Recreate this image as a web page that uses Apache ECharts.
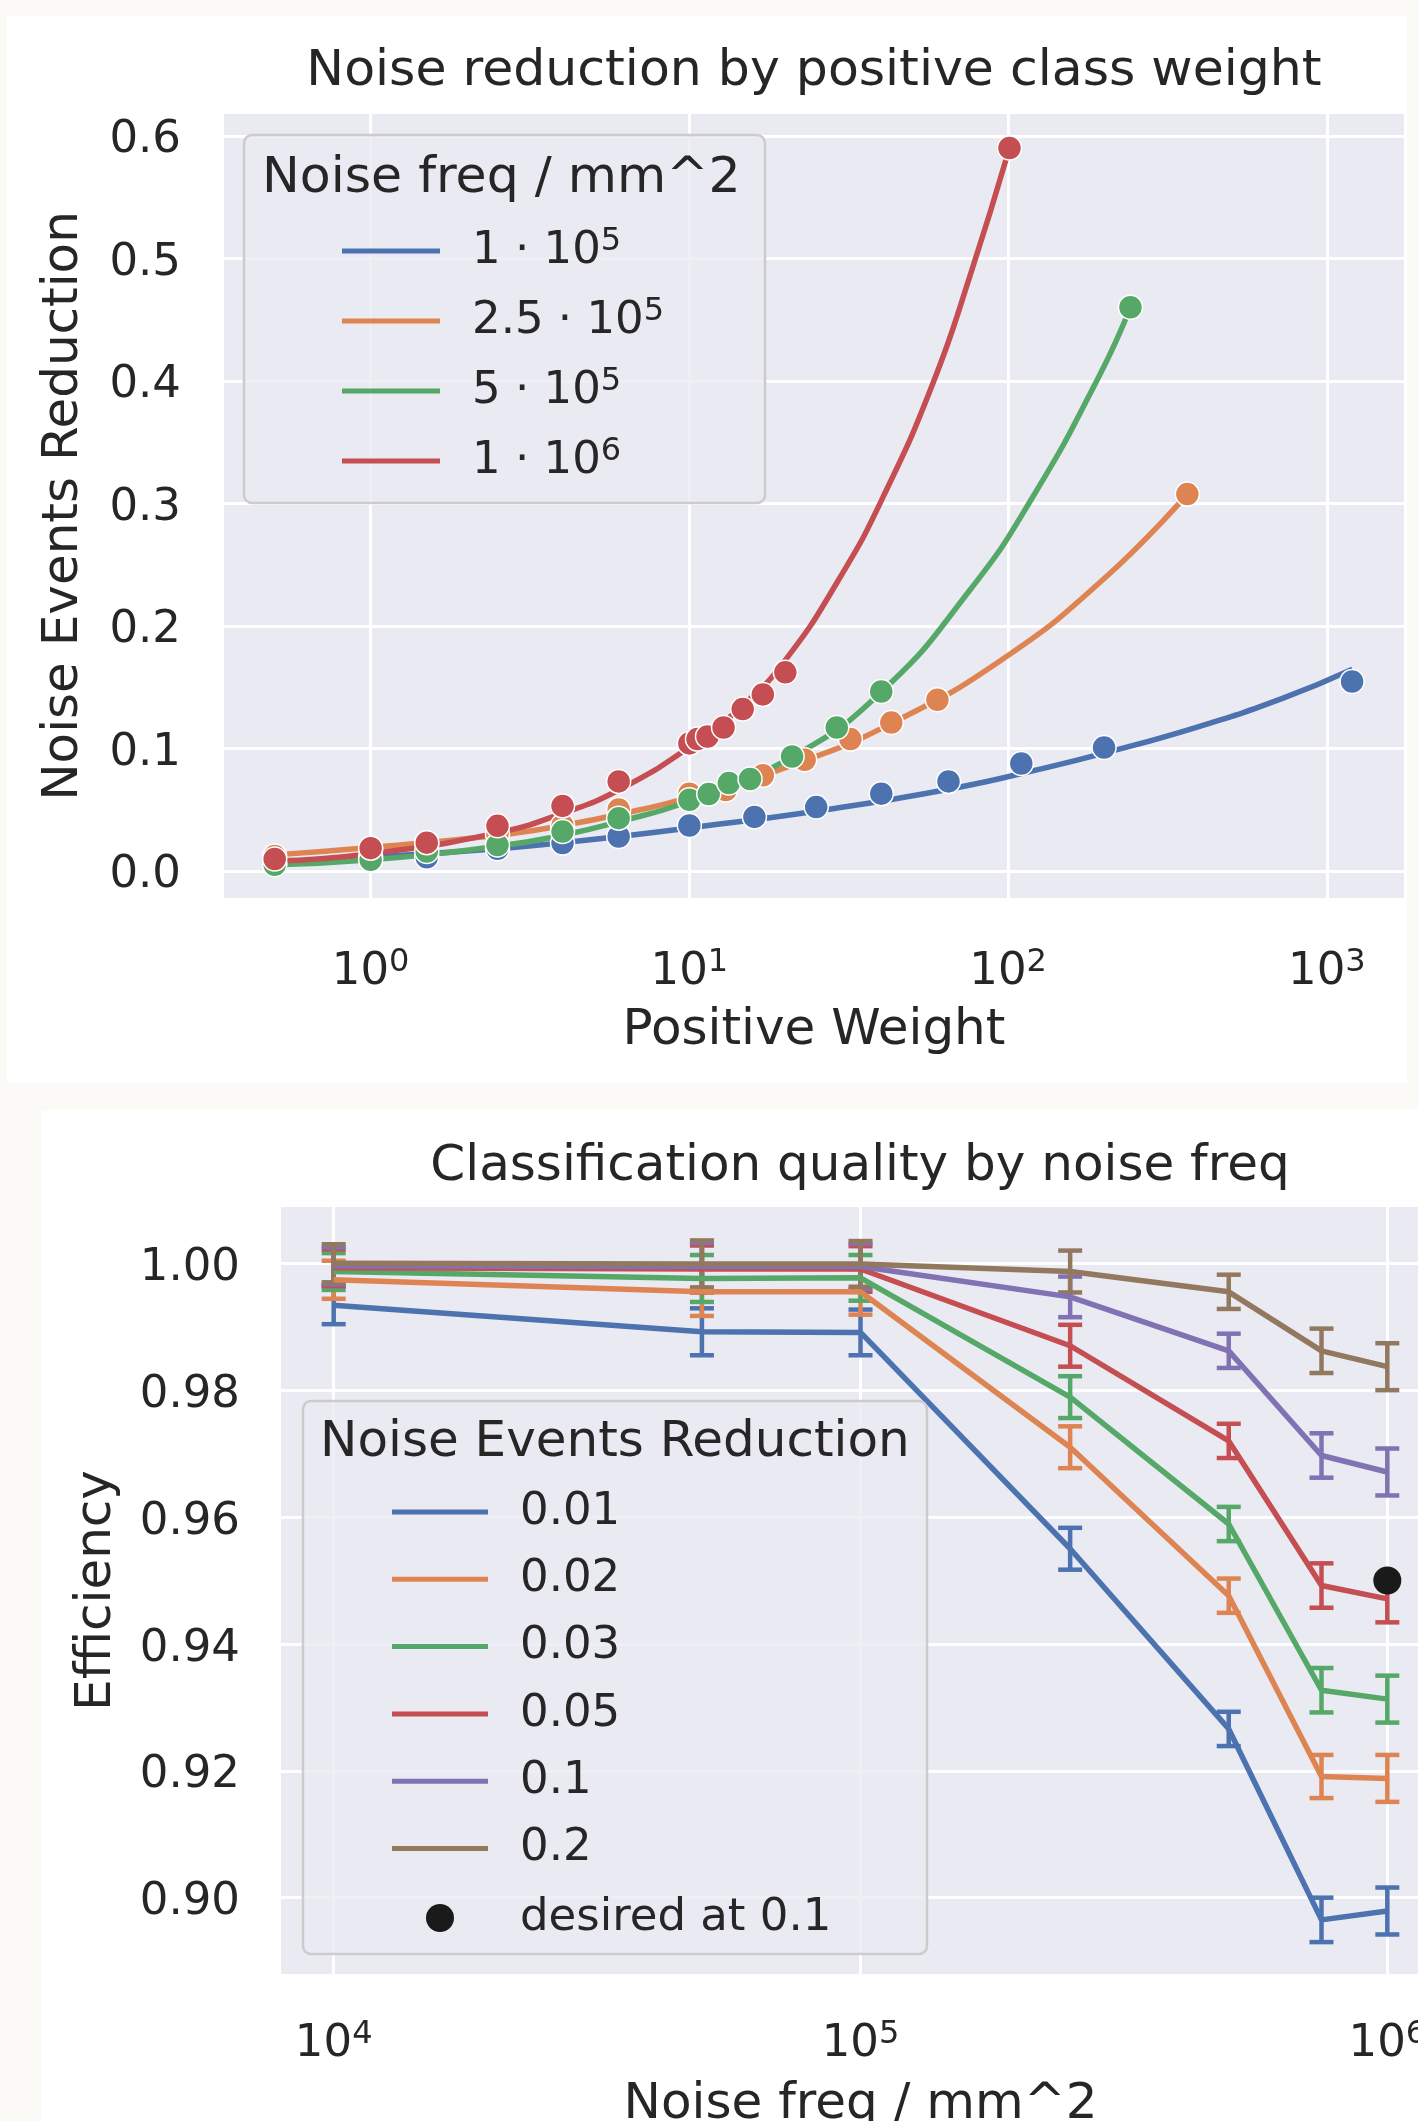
<!DOCTYPE html>
<html>
<head>
<meta charset="utf-8">
<title>Noise reduction and classification quality</title>
<script src="https://cdn.jsdelivr.net/npm/echarts@6/dist/echarts.min.js"></script>
<style>
  html, body { margin: 0; padding: 0; background: #fbfaf7; }
</style>
</head>
<body>
<div id="main" style="width: 1418px; height: 2121px;"></div>
<script>
// ---- top panel: noise reduction vs positive class weight ----
var topNames = ['1e5', '2.5e5', '5e5', '1e6'];
var freqMant = ['1', '2.5', '5', '1'];
var freqExp = ['5', '5', '5', '6'];
var weightTicks = [1, 10, 100, 1000];
var reductionTicks = [0, 0.1, 0.2, 0.3, 0.4, 0.5, 0.6];

// measured points [weight, reduction]
var pts1e5 = [[0.5, 0.006], [1, 0.011], [1.5, 0.011], [2.5, 0.018], [4, 0.0226], [6, 0.028], [10, 0.037],
  [16, 0.044], [25, 0.052], [40, 0.063], [65, 0.073], [110, 0.0876], [200, 0.1007], [1200, 0.1545]];
var pts25e5 = [[0.5, 0.012], [1, 0.018], [1.5, 0.022], [2.5, 0.030], [4, 0.037], [6, 0.050], [10, 0.063],
  [13, 0.066], [17, 0.078], [23, 0.0906], [32, 0.1075], [43, 0.121], [60, 0.1396], [365, 0.3075]];
var pts5e5 = [[0.5, 0.005], [1, 0.009], [1.5, 0.0158], [2.5, 0.021], [4, 0.032], [6, 0.043], [10, 0.058],
  [11.5, 0.0626], [13.3, 0.0716], [15.5, 0.075], [21, 0.0933], [29, 0.117], [40, 0.1464], [242, 0.46]];
var pts1e6 = [[0.5, 0.0096], [1, 0.0185], [1.5, 0.023], [2.5, 0.0367], [4, 0.053], [6, 0.073], [10, 0.104],
  [10.6, 0.1075], [11.4, 0.1096], [12.8, 0.117], [14.7, 0.132], [17, 0.144], [20, 0.162], [101, 0.59]];

// fitted curves
var fit1e5 = [[0.5, 0.006], [1, 0.011], [2.5, 0.018], [4, 0.023], [6, 0.028], [10, 0.035], [25.5, 0.049],
  [66.4, 0.067], [126, 0.083], [200, 0.096], [399, 0.118], [729, 0.141], [1203, 0.1646]];
var fit25e5 = [[0.5, 0.013], [1, 0.019], [2.5, 0.029], [4, 0.037], [6, 0.046], [10, 0.060], [23, 0.090],
  [43.5, 0.121], [94, 0.171], [199, 0.238], [365, 0.3075]];
var fit5e5 = [[0.5, 0.005], [1, 0.009], [2.5, 0.020], [4, 0.029], [6, 0.040], [10, 0.057], [21, 0.093],
  [40, 0.146], [75.8, 0.229], [120, 0.306], [194, 0.405], [242, 0.46]];
var fit1e6 = [[0.5, 0.008], [1, 0.014], [2.5, 0.031], [4, 0.047], [6, 0.066], [10, 0.101], [14.7, 0.135],
  [20, 0.172], [29.4, 0.2376], [40.5, 0.305], [58.1, 0.398], [75.8, 0.485], [101, 0.590]];

// ---- bottom panel: efficiency vs noise frequency ----
var noiseFreq = [1e4, 5e4, 1e5, 2.5e5, 5e5, 7.5e5, 1e6];
var reductionLevels = ['0.01', '0.02', '0.03', '0.05', '0.1', '0.2'];
var freqTicks = [1e4, 1e5, 1e6];
var effTicks = [0.90, 0.92, 0.94, 0.96, 0.98, 1.00];

var eff001 = [0.9934, 0.9892, 0.9891, 0.9550, 0.9266, 0.8965, 0.8979];
var eff002 = [0.9974, 0.9955, 0.9955, 0.9710, 0.9476, 0.9191, 0.9188];
var eff003 = [0.9987, 0.9976, 0.9977, 0.9789, 0.9589, 0.9327, 0.9313];
var eff005 = [0.9993, 0.9991, 0.9991, 0.9870, 0.9720, 0.9492, 0.9471];
var eff01 = [0.9996, 0.9995, 0.9995, 0.9947, 0.9862, 0.9697, 0.9671];
var eff02 = [1.0000, 0.9999, 0.9999, 0.9987, 0.9955, 0.9862, 0.9837];

var err001 = [0.0030, 0.0037, 0.0036, 0.0033, 0.0027, 0.0035, 0.0037];
var err002 = [0.0030, 0.0038, 0.0036, 0.0033, 0.0027, 0.0034, 0.0037];
var err003 = [0.0029, 0.0037, 0.0036, 0.0033, 0.0027, 0.0035, 0.0037];
var err005 = [0.0029, 0.0037, 0.0036, 0.0033, 0.0027, 0.0035, 0.0037];
var err01 = [0.0029, 0.0037, 0.0036, 0.0032, 0.0027, 0.0035, 0.0037];
var err02 = [0.0030, 0.0037, 0.0036, 0.0033, 0.0027, 0.0035, 0.0037];

var desired = [[1e6, 0.95]];

// ---- style ----
var FONT = 'DejaVu Sans';
var INK = '#262626';
var deep = ['#4c72b0', '#dd8452', '#55a868', '#c44e52', '#8172b3', '#937860'];

var myChart = echarts.init(document.getElementById('main'));

var supRich = { sup: { fontSize: 32, lineHeight: 18, verticalAlign: 'top', fontFamily: FONT, color: INK } };

function powLabel(v) {
  return '10{sup|' + Math.round(Math.log10(v)) + '}';
}

function errorBar(params, api) {
  var x = api.value(0), y = api.value(1), e = api.value(2);
  var hi = api.coord([x, y + e]);
  var lo = api.coord([x, y - e]);
  var half = 12;
  var st = { stroke: api.visual('color'), lineWidth: 4.5 };
  return {
    type: 'group',
    children: [
      { type: 'line', shape: { x1: hi[0], y1: hi[1], x2: lo[0], y2: lo[1] }, style: st },
      { type: 'line', shape: { x1: hi[0] - half, y1: hi[1], x2: hi[0] + half, y2: hi[1] }, style: st },
      { type: 'line', shape: { x1: lo[0] - half, y1: lo[1], x2: lo[0] + half, y2: lo[1] }, style: st }
    ]
  };
}

function zip(xs, ys, es) {
  var out = [];
  for (var i = 0; i < xs.length; i++) {
    out.push(es ? [xs[i], ys[i], es[i]] : [xs[i], ys[i]]);
  }
  return out;
}

var series = [];

// top: fitted curves then points
var fits = [fit1e5, fit25e5, fit5e5, fit1e6];
var pts = [pts1e5, pts25e5, pts5e5, pts1e6];
for (var i = 0; i < 4; i++) {
  series.push({
    name: topNames[i], type: 'line', xAxisIndex: 0, yAxisIndex: 0,
    data: fits[i], smooth: 0.5, showSymbol: false,
    color: deep[i], lineStyle: { width: 5.5, color: deep[i] }, z: 2
  });
}
for (var i = 0; i < 4; i++) {
  series.push({
    name: topNames[i], type: 'scatter', xAxisIndex: 0, yAxisIndex: 0,
    data: pts[i], symbolSize: 24,
    itemStyle: { color: deep[i], borderColor: '#ffffff', borderWidth: 1.5, opacity: 1 }, z: 3
  });
}

// bottom: desired marker first so the red bar sits on it
series.push({
  name: 'desired at 0.1', type: 'scatter', xAxisIndex: 1, yAxisIndex: 1,
  data: desired, symbolSize: 28, itemStyle: { color: '#1a1a1a', opacity: 1 }, z: 2
});
var effs = [eff001, eff002, eff003, eff005, eff01, eff02];
var errs = [err001, err002, err003, err005, err01, err02];
for (var k = 0; k < 6; k++) {
  series.push({
    name: reductionLevels[k], type: 'line', xAxisIndex: 1, yAxisIndex: 1,
    data: zip(noiseFreq, effs[k]), showSymbol: false,
    color: deep[k], lineStyle: { width: 5.5, color: deep[k] }, z: 2
  });
  series.push({
    name: reductionLevels[k], type: 'custom', xAxisIndex: 1, yAxisIndex: 1,
    data: zip(noiseFreq, effs[k], errs[k]), renderItem: errorBar,
    encode: { x: 0, y: 1 }, itemStyle: { color: deep[k] }, z: 2
  });
}

var tickFont = { fontSize: 45, lineHeight: 50, color: INK, fontFamily: FONT };
var yTickFont = { fontSize: 45, lineHeight: 10, verticalAlign: 'top', color: INK, fontFamily: FONT };
var nameFont = { fontSize: 50, color: INK, fontFamily: FONT };
var gridLine = { show: true, lineStyle: { color: '#ffffff', width: 3 } };

option = {
  animation: false,
  backgroundColor: '#fbfaf7',
  textStyle: { fontFamily: FONT },
  title: [
    { text: 'Noise reduction by positive class weight', left: 809, top: 41, textAlign: 'center',
      textStyle: { fontSize: 50.5, fontWeight: 'normal', color: INK, fontFamily: FONT } },
    { text: 'Classification quality by noise freq', left: 855, top: 1137, textAlign: 'center',
      textStyle: { fontSize: 50, fontWeight: 'normal', color: INK, fontFamily: FONT } }
  ],
  grid: [
    { left: 224, top: 114, width: 1180, height: 784, show: true, backgroundColor: '#eaeaf2', borderWidth: 0,
      outerBoundsMode: 'none' },
    { left: 281, top: 1207, width: 1159, height: 767, show: true, backgroundColor: '#eaeaf2', borderWidth: 0,
      outerBoundsMode: 'none' }
  ],
  xAxis: [
    {
      type: 'log', logBase: 10, gridIndex: 0, min: 0.3467, max: 1746,
      axisLine: { show: false }, axisTick: { show: false, customValues: weightTicks },
      axisLabel: Object.assign({ customValues: weightTicks, margin: 49, formatter: powLabel, rich: supRich }, tickFont),
      splitLine: gridLine,
      name: 'Positive Weight', nameLocation: 'middle', nameGap: 108, nameTextStyle: nameFont
    },
    {
      type: 'log', logBase: 10, gridIndex: 1, min: 7943.28, max: 1258925,
      axisLine: { show: false }, axisTick: { show: false, customValues: freqTicks },
      axisLabel: Object.assign({ customValues: freqTicks, margin: 45, formatter: powLabel, rich: supRich }, tickFont),
      splitLine: gridLine,
      name: 'Noise freq / mm^2', nameLocation: 'middle', nameGap: 106, nameTextStyle: nameFont
    }
  ],
  yAxis: [
    {
      type: 'value', gridIndex: 0, min: -0.0222, max: 0.6178,
      axisLine: { show: false }, axisTick: { show: false, customValues: reductionTicks },
      axisLabel: Object.assign({ customValues: reductionTicks, margin: 43,
        formatter: function (v) { return v.toFixed(1); } }, yTickFont),
      splitLine: gridLine,
      name: 'Noise Events Reduction', nameLocation: 'middle', nameGap: 135, nameTextStyle: nameFont
    },
    {
      type: 'value', gridIndex: 1, min: 0.88797, max: 1.00887,
      axisLine: { show: false }, axisTick: { show: false, customValues: effTicks },
      axisLabel: Object.assign({ customValues: effTicks, margin: 41,
        formatter: function (v) { return v.toFixed(2); } }, yTickFont),
      splitLine: gridLine,
      name: 'Efficiency', nameLocation: 'middle', nameGap: 159, nameTextStyle: nameFont
    }
  ],
  legend: [
    {
      data: topNames, left: 342, top: 226, orient: 'vertical', padding: 0,
      itemWidth: 98, itemHeight: 5, itemGap: 20, icon: 'rect', z: 20,
      formatter: function (name) {
        var i = topNames.indexOf(name);
        return freqMant[i] + ' \u00b7 10{sup|' + freqExp[i] + '}';
      },
      textStyle: { fontSize: 45, lineHeight: 50, color: INK, fontFamily: FONT, padding: [0, 0, 0, 27], rich: supRich }
    },
    {
      data: reductionLevels, left: 392, top: 1488, orient: 'vertical', padding: 0,
      itemWidth: 96, itemHeight: 5, itemGap: 19.3, icon: 'rect', z: 20,
      textStyle: { fontSize: 45, lineHeight: 48, color: INK, fontFamily: FONT, padding: [0, 0, 0, 27] }
    },
    {
      data: ['desired at 0.1'], left: 426, top: 1894, orient: 'vertical', padding: 0,
      itemWidth: 28, itemHeight: 28, icon: 'circle', z: 20,
      textStyle: { fontSize: 45, lineHeight: 48, color: INK, fontFamily: FONT, padding: [0, 0, 0, 61] }
    }
  ],
  graphic: [
    // figure panels
    { type: 'rect', z: -10, shape: { x: 7, y: 16, width: 1400, height: 1067 }, style: { fill: '#ffffff' } },
    { type: 'rect', z: -10, shape: { x: 41, y: 1110, width: 1377, height: 1011 }, style: { fill: '#ffffff' } },
    // legend frames and titles
    { type: 'rect', z: 10, shape: { x: 244, y: 135, width: 521, height: 368, r: 8 },
      style: { fill: 'rgba(234,234,242,0.8)', stroke: '#cccccc', lineWidth: 2.5 } },
    { type: 'text', z: 20, x: 262, y: 179,
      style: { text: 'Noise freq / mm^2', fill: INK, font: '50.5px "DejaVu Sans"', verticalAlign: 'middle' } },
    { type: 'rect', z: 10, shape: { x: 303, y: 1401, width: 624, height: 553, r: 8 },
      style: { fill: 'rgba(234,234,242,0.8)', stroke: '#cccccc', lineWidth: 2.5 } },
    { type: 'text', z: 20, x: 320, y: 1443,
      style: { text: 'Noise Events Reduction', fill: INK, font: '50px "DejaVu Sans"', verticalAlign: 'middle' } }
  ],
  series: series
};

myChart.setOption(option);
</script>
</body>
</html>
